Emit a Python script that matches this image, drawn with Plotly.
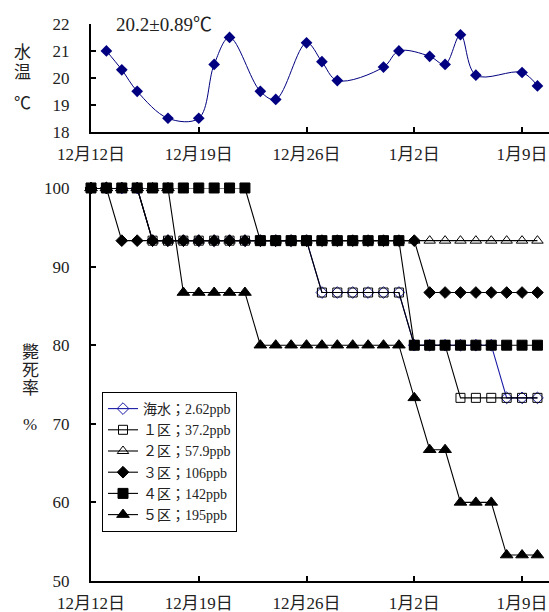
import plotly.graph_objects as go
from plotly.subplots import make_subplots
import pandas as pd

# ---- data ----
start = pd.Timestamp("2007-12-12")
days = list(range(30))
dates = [start + pd.Timedelta(days=d) for d in days]

temp_days = [1, 2, 3, 5, 7, 8, 9, 11, 12, 14, 15, 16, 19, 20, 22, 23, 24, 25, 28, 29]
temp_vals = [21.0, 20.3, 19.5, 18.5, 18.5, 20.5, 21.5, 19.5, 19.2, 21.3, 20.6, 19.9,
             20.4, 21.0, 20.8, 20.5, 21.6, 20.1, 20.2, 19.7]

seawater = [100]*4 + [93.3]*11 + [86.7]*6 + [80]*6 + [73.3]*3
zone1 = [100]*4 + [93.3]*11 + [86.7]*6 + [80]*3 + [73.3]*6
zone2 = [100]*4 + [93.3]*26
zone3 = [100]*2 + [93.3]*20 + [86.7]*8
zone4 = [100]*11 + [93.3]*10 + [80]*9
zone5 = [100]*6 + [86.7]*5 + [80]*10 + [73.3] + [66.7]*2 + [60]*3 + [53.3]*3

names = ["海水；2.62ppb", "１区；37.2ppb", "２区；57.9ppb", "３区；106ppb", "４区；142ppb", "５区；195ppb"]
tick_dates = ["2007-12-12", "2007-12-19", "2007-12-26", "2008-01-02", "2008-01-09"]
tick_text = ["12月12日", "12月19日", "12月26日", "1月2日", "1月9日"]

FONT = "Liberation Serif, Noto Sans CJK JP, serif"

fig = make_subplots(rows=2, cols=1, shared_xaxes=False, vertical_spacing=0.1)

fig.add_trace(go.Scatter(
    x=[start + pd.Timedelta(days=d) for d in temp_days], y=temp_vals,
    mode="lines+markers", line=dict(color="#000080", width=1, shape="spline", smoothing=1),
    marker=dict(symbol="diamond", size=9, color="#000080"), showlegend=False, cliponaxis=False),
    row=1, col=1)

styles = [
    dict(symbol="diamond-open", color="#1a1aa6", size=9, lc="#1a1aa6"),
    dict(symbol="square-open", color="black", size=9, lc="black"),
    dict(symbol="triangle-up-open", color="black", size=10, lc="black"),
    dict(symbol="diamond", color="black", size=9, lc="black"),
    dict(symbol="square", color="black", size=10, lc="black"),
    dict(symbol="triangle-up", color="black", size=11, lc="black"),
]
series = [seawater, zone1, zone2, zone3, zone4, zone5]
for nm, vals, st in zip(names, series, styles):
    fig.add_trace(go.Scatter(
        x=dates, y=vals, name=nm, mode="lines+markers",
        line=dict(color=st["lc"], width=1.1),
        marker=dict(symbol=st["symbol"], size=st["size"], color=st["color"],
                    line=dict(color=st["color"], width=1)),
        cliponaxis=False), row=2, col=1)

xr = [start, start + pd.Timedelta(days=29.75)]
axis_common = dict(showline=True, linecolor="black", linewidth=2, ticks="inside",
                   ticklen=5, tickwidth=2, tickcolor="black", showgrid=False, zeroline=False,
                   tickfont=dict(family=FONT, size=17, color="#222"))
fig.update_xaxes(range=xr, tickvals=tick_dates, ticktext=tick_text, ticklabelstandoff=6, **axis_common)
fig.update_yaxes(ticklabelstandoff=16, **axis_common)
fig.update_yaxes(range=[18, 22], dtick=1, domain=[0.8066, 1.0], row=1, col=1)
fig.update_yaxes(range=[50, 100], dtick=10, domain=[0.0, 0.7056], row=2, col=1)

ann_font = dict(family=FONT, size=17, color="#222")
annotations = [
    dict(text="20.2±0.89℃", x=164, y=24, xanchor="center", yanchor="middle", size=19),
    dict(text="水", x=22, y=52, xanchor="center", yanchor="middle"),
    dict(text="温", x=22, y=72, xanchor="center", yanchor="middle"),
    dict(text="℃", x=22, y=104, xanchor="center", yanchor="middle"),
    dict(text="斃", x=30, y=352, xanchor="center", yanchor="middle"),
    dict(text="死", x=30, y=370, xanchor="center", yanchor="middle"),
    dict(text="率", x=30, y=388, xanchor="center", yanchor="middle"),
    dict(text="%", x=30, y=424, xanchor="center", yanchor="middle"),
]
W, H = 549, 612
L, R, T, B = 91, 0, 24, 31
pw, ph = W - L - R, H - T - B
for a in annotations:
    f = dict(ann_font)
    if "size" in a:
        f["size"] = a["size"]
    fig.add_annotation(text=a["text"], xref="paper", yref="paper",
                       x=(a["x"] - L) / pw, y=1 - (a["y"] - T) / ph,
                       xanchor=a["xanchor"], yanchor=a["yanchor"], showarrow=False,
                       font=f)

fig.update_layout(
    width=W, height=H, margin=dict(l=L, r=R, t=T, b=B),
    plot_bgcolor="white", paper_bgcolor="white",
    font=dict(family=FONT, size=17, color="#222"),
    legend=dict(x=(102 - L) / pw, y=1 - (392 - T) / ph, xanchor="left", yanchor="top",
                bgcolor="white", bordercolor="black", borderwidth=1,
                font=dict(family=FONT, size=14, color="#222"),
                itemwidth=30, tracegroupgap=0),
)

fig.write_html("out.html", config={"displayModeBar": False},
               post_script="document.body.style.margin='0';document.body.style.padding='0';document.body.style.overflow='hidden';")
